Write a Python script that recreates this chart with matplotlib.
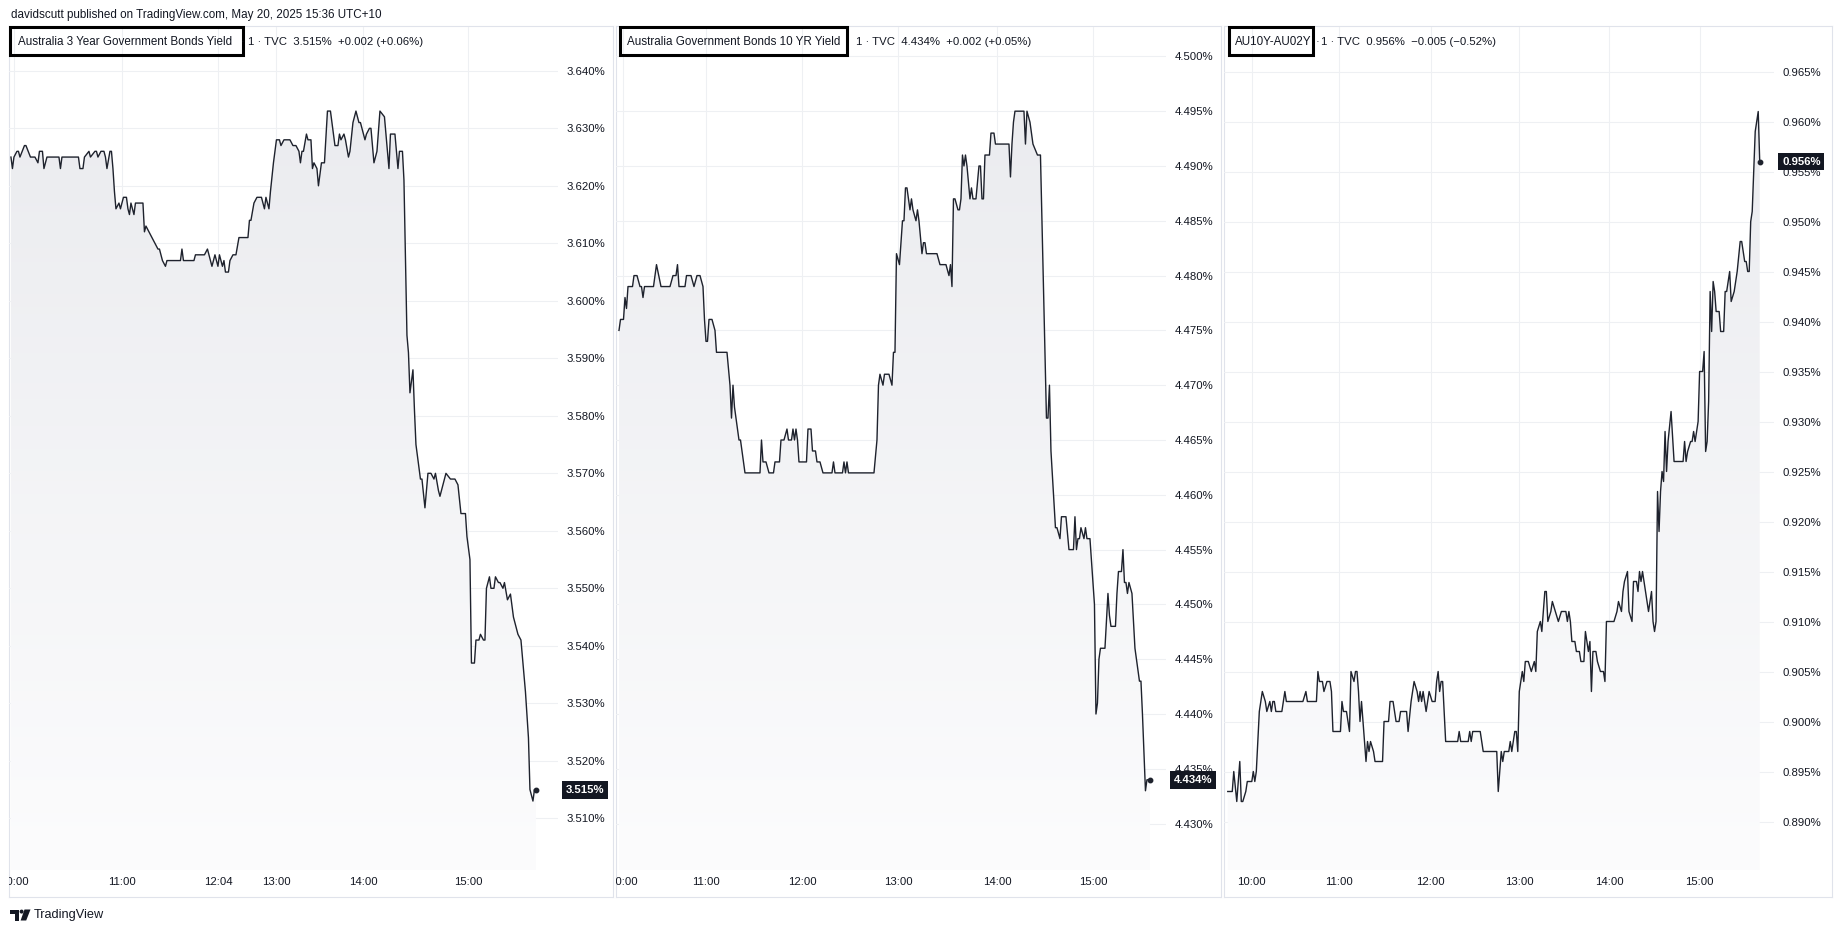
import numpy as np
import matplotlib
matplotlib.use("Agg")
import matplotlib.pyplot as plt
from matplotlib.colors import LinearSegmentedColormap
from matplotlib.patches import Rectangle, Polygon, Circle
from matplotlib.ticker import FuncFormatter
from matplotlib.transforms import blended_transform_factory as blend

plt.rcParams['font.family'] = ['Liberation Sans', 'DejaVu Sans']

# ---------------- data: 1-minute bar number -> close yield (%) ----------------
au3y_bar = [0, 1, 2, 4, 5, 6, 9, 10, 13, 16, 18, 19, 21, 22, 24, 32, 33, 34, 45, 46, 48, 49, 52, 53,
            56, 57, 58, 60, 62, 63, 64, 66, 67, 68, 69, 70, 72, 73, 75, 77, 78, 79, 80, 82, 83, 88,
            89, 90, 92, 94, 96, 98, 99, 101, 103, 104, 113, 114, 115, 122, 123, 129, 131, 133, 134,
            136, 138, 139, 141, 142, 143, 145, 146, 148, 150, 152, 158, 159, 160, 162, 164, 167,
            169, 170, 172, 173, 175, 177, 179, 180, 182, 186, 188, 190, 192, 193, 194, 195, 197,
            198, 200, 201, 202, 204, 205, 207, 209, 211, 213, 216, 218, 219, 220, 222, 223, 225,
            226, 228, 230, 232, 233, 236, 237, 239, 240, 242, 244, 246, 249, 250, 252, 253, 256,
            258, 259, 261, 262, 264, 265, 266, 268, 269, 270, 273, 274, 276, 278, 280, 282, 283,
            285, 286, 289, 290, 293, 296, 298, 300, 303, 304, 306, 307, 309, 310, 312, 313, 315,
            316, 317, 319, 320, 322, 323, 325, 326, 328, 329, 331, 333, 334, 335, 337, 338, 340,
            342, 343, 345, 346, 348, 349, 350]
au3y_yld = [3.625, 3.623, 3.625, 3.626, 3.626, 3.625, 3.627, 3.627, 3.625, 3.625, 3.624, 3.626,
            3.626, 3.623, 3.625, 3.625, 3.623, 3.625, 3.625, 3.623, 3.623, 3.625, 3.626, 3.625,
            3.626, 3.626, 3.625, 3.626, 3.626, 3.625, 3.623, 3.626, 3.626, 3.623, 3.619, 3.616,
            3.617, 3.616, 3.618, 3.618, 3.616, 3.615, 3.617, 3.615, 3.617, 3.617, 3.612, 3.613,
            3.612, 3.611, 3.610, 3.609, 3.609, 3.607, 3.606, 3.607, 3.607, 3.609, 3.607, 3.607,
            3.608, 3.608, 3.609, 3.607, 3.606, 3.608, 3.606, 3.608, 3.606, 3.607, 3.605, 3.605,
            3.607, 3.608, 3.608, 3.611, 3.611, 3.614, 3.614, 3.617, 3.618, 3.618, 3.616, 3.618,
            3.616, 3.619, 3.624, 3.628, 3.628, 3.627, 3.628, 3.628, 3.627, 3.627, 3.626, 3.624,
            3.626, 3.626, 3.629, 3.628, 3.628, 3.623, 3.624, 3.623, 3.620, 3.624, 3.624, 3.633,
            3.633, 3.627, 3.627, 3.629, 3.628, 3.629, 3.628, 3.625, 3.626, 3.631, 3.633, 3.631,
            3.631, 3.628, 3.629, 3.630, 3.630, 3.624, 3.626, 3.633, 3.632, 3.629, 3.623, 3.629,
            3.629, 3.623, 3.626, 3.626, 3.621, 3.594, 3.591, 3.584, 3.588, 3.581, 3.575, 3.569,
            3.569, 3.564, 3.570, 3.570, 3.569, 3.570, 3.567, 3.566, 3.569, 3.570, 3.569, 3.569,
            3.568, 3.563, 3.563, 3.559, 3.555, 3.537, 3.537, 3.541, 3.541, 3.542, 3.541, 3.541,
            3.550, 3.552, 3.550, 3.550, 3.552, 3.551, 3.551, 3.550, 3.551, 3.548, 3.549, 3.547,
            3.545, 3.543, 3.542, 3.541, 3.535, 3.532, 3.524, 3.515, 3.513, 3.515, 3.515]

au10y_bar = [0, 1, 3, 4, 5, 6, 9, 10, 12, 14, 15, 16, 17, 23, 25, 28, 34, 36, 38, 39, 40, 44, 45,
             48, 50, 52, 54, 56, 57, 58, 59, 60, 62, 64, 65, 72, 74, 75, 76, 77, 79, 80, 81, 82,
             84, 94, 95, 96, 98, 100, 103, 104, 107, 108, 110, 112, 113, 115, 116, 117, 118, 119,
             120, 125, 126, 128, 129, 131, 132, 134, 136, 142, 143, 144, 149, 150, 151, 152, 153,
             170, 172, 173, 174, 176, 177, 180, 182, 183, 184, 185, 187, 189, 190, 191, 192, 194,
             195, 196, 198, 199, 200, 202, 203, 204, 205, 212, 214, 218, 220, 221, 222, 223, 224,
             226, 227, 228, 229, 230, 231, 232, 234, 235, 236, 238, 240, 241, 242, 243, 244, 247,
             248, 250, 251, 260, 261, 262, 263, 264, 270, 271, 272, 274, 275, 276, 279, 281, 282,
             285, 286, 287, 288, 291, 292, 294, 295, 298, 300, 303, 304, 305, 306, 307, 308, 310,
             311, 312, 314, 315, 317, 318, 319, 320, 321, 324, 326, 327, 328, 331, 332, 333, 335,
             336, 337, 338, 339, 340, 342, 344, 345, 347, 348, 349, 351, 352, 354]
au10y_yld = [4.475, 4.476, 4.476, 4.478, 4.477, 4.479, 4.479, 4.480, 4.480, 4.479, 4.479, 4.478,
             4.479, 4.479, 4.481, 4.479, 4.479, 4.480, 4.480, 4.481, 4.479, 4.479, 4.480, 4.480,
             4.479, 4.480, 4.480, 4.479, 4.476, 4.474, 4.474, 4.476, 4.476, 4.475, 4.473, 4.473,
             4.470, 4.467, 4.470, 4.468, 4.466, 4.465, 4.465, 4.464, 4.462, 4.462, 4.465, 4.463,
             4.463, 4.462, 4.462, 4.463, 4.463, 4.465, 4.465, 4.466, 4.465, 4.465, 4.466, 4.465,
             4.466, 4.465, 4.463, 4.463, 4.466, 4.466, 4.464, 4.464, 4.463, 4.463, 4.462, 4.462,
             4.463, 4.462, 4.462, 4.463, 4.462, 4.463, 4.462, 4.462, 4.465, 4.470, 4.471, 4.470,
             4.471, 4.471, 4.470, 4.473, 4.473, 4.482, 4.481, 4.485, 4.485, 4.488, 4.488, 4.486,
             4.487, 4.486, 4.485, 4.486, 4.485, 4.482, 4.483, 4.483, 4.482, 4.482, 4.481, 4.481,
             4.480, 4.481, 4.479, 4.487, 4.487, 4.486, 4.486, 4.487, 4.491, 4.490, 4.491, 4.490,
             4.487, 4.488, 4.487, 4.487, 4.490, 4.490, 4.487, 4.487, 4.491, 4.491, 4.493, 4.493,
             4.492, 4.492, 4.489, 4.492, 4.494, 4.495, 4.495, 4.492, 4.495, 4.494, 4.493, 4.492,
             4.491, 4.491, 4.485, 4.467, 4.467, 4.470, 4.464, 4.457, 4.457, 4.456, 4.458, 4.458,
             4.455, 4.455, 4.458, 4.455, 4.456, 4.456, 4.457, 4.456, 4.457, 4.456, 4.456, 4.454,
             4.450, 4.440, 4.441, 4.445, 4.446, 4.446, 4.451, 4.449, 4.448, 4.448, 4.451, 4.453,
             4.453, 4.455, 4.452, 4.452, 4.451, 4.452, 4.451, 4.446, 4.445, 4.443, 4.443, 4.440,
             4.433, 4.434, 4.434]

spread_bar = [0, 3, 4, 6, 8, 9, 10, 12, 13, 16, 17, 18, 19, 21, 22, 23, 25, 26, 28, 29, 30, 31, 32,
              36, 38, 39, 50, 52, 53, 59, 60, 61, 63, 64, 66, 68, 69, 70, 75, 76, 77, 79, 80, 81,
              82, 84, 85, 86, 87, 88, 89, 92, 93, 94, 95, 97, 98, 103, 104, 107, 108, 110, 112,
              114, 115, 119, 120, 122, 124, 126, 127, 128, 129, 130, 131, 132, 134, 136, 138, 139,
              140, 141, 142, 143, 145, 153, 154, 155, 160, 161, 162, 163, 168, 169, 170, 179, 180,
              182, 183, 184, 187, 188, 189, 191, 192, 193, 194, 196, 197, 198, 200, 202, 204, 205,
              206, 208, 209, 211, 212, 213, 215, 216, 218, 220, 222, 225, 226, 227, 228, 229, 231,
              232, 234, 235, 237, 238, 240, 241, 242, 243, 245, 246, 248, 250, 251, 252, 257, 259,
              260, 262, 263, 264, 266, 267, 269, 270, 272, 273, 274, 275, 276, 277, 278, 280, 282,
              283, 284, 285, 286, 287, 288, 289, 290, 291, 292, 293, 295, 297, 303, 304, 305, 306,
              308, 309, 310, 311, 312, 313, 314, 315, 316, 317, 318, 319, 320, 321, 322, 323, 324,
              325, 327, 328, 330, 331, 332, 333, 334, 335, 337, 338, 339, 341, 342, 344, 345, 346,
              347, 348, 349, 351, 353, 354]
spread_yld = [0.893, 0.893, 0.895, 0.892, 0.896, 0.892, 0.892, 0.893, 0.894, 0.894, 0.895, 0.894,
              0.895, 0.901, 0.902, 0.903, 0.902, 0.901, 0.902, 0.901, 0.902, 0.902, 0.901, 0.901,
              0.903, 0.902, 0.902, 0.903, 0.902, 0.902, 0.905, 0.904, 0.904, 0.903, 0.904, 0.904,
              0.903, 0.899, 0.899, 0.902, 0.901, 0.901, 0.900, 0.899, 0.905, 0.904, 0.905, 0.905,
              0.903, 0.900, 0.902, 0.896, 0.898, 0.897, 0.898, 0.897, 0.896, 0.896, 0.900, 0.900,
              0.902, 0.902, 0.900, 0.900, 0.901, 0.901, 0.899, 0.902, 0.904, 0.903, 0.902, 0.903,
              0.902, 0.903, 0.902, 0.901, 0.903, 0.902, 0.902, 0.904, 0.905, 0.903, 0.904, 0.904,
              0.898, 0.898, 0.899, 0.898, 0.898, 0.899, 0.898, 0.899, 0.899, 0.898, 0.897, 0.897,
              0.893, 0.897, 0.896, 0.897, 0.897, 0.898, 0.897, 0.899, 0.899, 0.897, 0.903, 0.905,
              0.904, 0.906, 0.906, 0.905, 0.906, 0.905, 0.909, 0.910, 0.909, 0.913, 0.913, 0.910,
              0.911, 0.912, 0.911, 0.910, 0.911, 0.911, 0.910, 0.911, 0.910, 0.908, 0.908, 0.907,
              0.907, 0.906, 0.906, 0.909, 0.907, 0.908, 0.903, 0.907, 0.907, 0.906, 0.905, 0.905,
              0.904, 0.910, 0.910, 0.911, 0.912, 0.911, 0.913, 0.914, 0.915, 0.911, 0.910, 0.914,
              0.914, 0.913, 0.915, 0.914, 0.915, 0.914, 0.913, 0.911, 0.913, 0.910, 0.909, 0.910,
              0.923, 0.919, 0.923, 0.925, 0.924, 0.929, 0.925, 0.928, 0.931, 0.926, 0.926, 0.928,
              0.926, 0.927, 0.928, 0.928, 0.929, 0.928, 0.929, 0.930, 0.935, 0.935, 0.935, 0.937,
              0.927, 0.928, 0.932, 0.943, 0.939, 0.944, 0.943, 0.941, 0.941, 0.939, 0.939, 0.943,
              0.943, 0.944, 0.945, 0.942, 0.943, 0.944, 0.945, 0.948, 0.948, 0.946, 0.946, 0.945,
              0.945, 0.950, 0.951, 0.959, 0.961, 0.956]

# time-axis labels (bar number where each label sits)
au3y_tick_bar = [2, 74, 138, 177, 235, 305]
au3y_tick_lab = ["10:00", "11:00", "12:04", "13:00", "14:00", "15:00"]
au10y_tick_bar = [3, 58, 122, 186, 252, 316]
au10y_tick_lab = ["10:00", "11:00", "12:00", "13:00", "14:00", "15:00"]
spread_tick_bar = [16, 74, 135, 194, 254, 314]
spread_tick_lab = ["10:00", "11:00", "12:00", "13:00", "14:00", "15:00"]

# price scale
au3y_yticks = np.round(np.arange(3.510, 3.6401, 0.010), 3)
au10y_yticks = np.round(np.arange(4.430, 4.5001, 0.005), 3)
spread_yticks = np.round(np.arange(0.890, 0.9651, 0.005), 3)

header = "davidscutt published on TradingView.com, May 20, 2025 15:36 UTC+10"
titles = ["Australia 3 Year Government Bonds Yield",
          "Australia Government Bonds 10 YR Yield",
          "AU10Y-AU02Y"]
suffixes = ["1 \u00b7 TVC  3.515%  +0.002 (+0.06%)",
            "1 \u00b7 TVC  4.434%  +0.002 (+0.05%)",
            "1 \u00b7 TVC  0.956%  \u22120.005 (\u22120.52%)"]

# ---------------- style / layout ----------------
W, H = 1841, 932
TXT = "#131722"
LINE = "#1e222d"
GRID = "#eef0f3"
BORDER = "#e0e3eb"
FS = 8.2
FS_TITLE = 8.4
fade = LinearSegmentedColormap.from_list("fade", [(0.988, 0.988, 0.992), (0.914, 0.918, 0.933)])

PLOT_TOP, PLOT_BOT = 27, 870
PANE_TOP, PANE_BOT = 26, 897

layout = [
    dict(pane=(9, 613), right=558, xlim=(-1.3, 364.7), ylim=(3.50101, 3.64762),
         box=(10, 243.5), title_x=17.8, dot_x=240.5, suffix_x=248),
    dict(pane=(616, 1221), right=1166, xlim=(-2.0, 364.7), ylim=(4.42577, 4.50268),
         box=(620, 847.5), title_x=626.6, dot_x=None, suffix_x=856),
    dict(pane=(1224, 1832), right=1774, xlim=(-2.5, 363.5), ylim=(0.88515, 0.96945),
         box=(1229.4, 1313.5), title_x=1235, dot_x=1316, suffix_x=1321),
]
series = [(au3y_bar, au3y_yld, au3y_tick_bar, au3y_tick_lab, au3y_yticks),
          (au10y_bar, au10y_yld, au10y_tick_bar, au10y_tick_lab, au10y_yticks),
          (spread_bar, spread_yld, spread_tick_bar, spread_tick_lab, spread_yticks)]


def rect(x0, y0, x1, y1):
    return [x0 / W, 1 - y1 / H, (x1 - x0) / W, (y1 - y0) / H]


fig = plt.figure(figsize=(W / 100, H / 100), dpi=100)
fig.patch.set_facecolor("white")

overlay = fig.add_axes([0, 0, 1, 1], zorder=5)
overlay.set_xlim(0, W)
overlay.set_ylim(H, 0)
overlay.axis("off")
overlay.patch.set_visible(False)

for lay, (bars, ylds, tbar, tlab, yt), title, suffix in zip(layout, series, titles, suffixes):
    px0, px1 = lay["pane"]
    pane = fig.add_axes(rect(px0, PANE_TOP, px1, PANE_BOT), zorder=0)
    pane.set_xticks([])
    pane.set_yticks([])
    for s in pane.spines.values():
        s.set_color(BORDER)
        s.set_linewidth(0.8)

    ax = fig.add_axes(rect(px0, PLOT_TOP, lay["right"], PLOT_BOT), zorder=1)
    ax.patch.set_visible(False)
    for s in ax.spines.values():
        s.set_visible(False)
    x0, x1 = lay["xlim"]
    y0, y1 = lay["ylim"]

    # gradient area under the line
    grad = np.linspace(0, 1, 256).reshape(-1, 1)
    img = ax.imshow(grad, extent=[x0, x1, y0, y1], origin="lower", aspect="auto",
                    cmap=fade, zorder=1, interpolation="bilinear")
    verts = [(bars[0], y0)] + list(zip(bars, ylds)) + [(bars[-1], y0)]
    area = Polygon(verts, closed=True, facecolor="none", edgecolor="none")
    ax.add_patch(area)
    img.set_clip_path(area)

    ax.plot(bars, ylds, color=LINE, lw=1.0, zorder=3)
    ax.plot(bars[-1], ylds[-1], "o", ms=3.2, color=LINE, zorder=4)

    ax.set_xlim(x0, x1)
    ax.set_ylim(y0, y1)
    ax.set_xticks(tbar)
    ax.set_yticks(yt)
    ax.grid(True, color=GRID, lw=0.8, zorder=0)
    ax.set_axisbelow(True)
    ax.yaxis.tick_right()
    ax.tick_params(axis="both", length=0, labelsize=FS, labelcolor=TXT)
    ax.tick_params(axis="x", labelbottom=False)
    ax.tick_params(axis="y", pad=6.2)
    ax.yaxis.set_major_formatter(FuncFormatter(lambda v, p: f"{v:.3f}%"))

    # time labels, clipped to the pane like the original
    for b, lab in zip(tbar, tlab):
        pane.text(b, 1 - 882 / H, lab, transform=blend(ax.transData, fig.transFigure),
                  ha="center", va="center", fontsize=FS, color=TXT, clip_on=True)

    # last price tag
    ax.text(1.0 + 8.0 / (lay["right"] - px0), ylds[-1], f"{ylds[-1]:.3f}%",
            transform=blend(ax.transAxes, ax.transData), ha="left", va="center",
            fontsize=FS, color="white", fontweight="bold", zorder=6,
            bbox=dict(boxstyle="square,pad=0.35", fc=TXT, ec="none"))

    # legend line with boxed title
    overlay.text(lay["title_x"], 42, title, ha="left", va="center", fontsize=FS_TITLE, color=TXT)
    if lay["dot_x"] is not None:
        overlay.text(lay["dot_x"], 42, "\u00b7", ha="left", va="center", fontsize=FS, color=TXT)
    overlay.text(lay["suffix_x"], 42, suffix, ha="left", va="center", fontsize=FS, color=TXT)
    bx0, bx1 = lay["box"]
    overlay.add_patch(Rectangle((bx0, 26.5), bx1 - bx0, 28.7, fill=False, ec="black", lw=2.2))

overlay.text(11, 15, header, ha="left", va="center", fontsize=FS_TITLE, color=TXT)

# TradingView logo
overlay.add_patch(Polygon([(10, 909.5), (19, 909.5), (19, 920.5), (15, 920.5), (15, 913.5), (10, 913.5)],
                          closed=True, fc=TXT, ec="none"))
overlay.add_patch(Circle((21.6, 911.6), 2.0, fc=TXT, ec="none"))
overlay.add_patch(Polygon([(24.5, 909.5), (30.5, 909.5), (26.2, 920.5), (20.6, 920.5)],
                          closed=True, fc=TXT, ec="none"))
overlay.text(33.5, 915, "TradingView", ha="left", va="center", fontsize=9.2, color=TXT)

fig.savefig("out.png", dpi=100)
